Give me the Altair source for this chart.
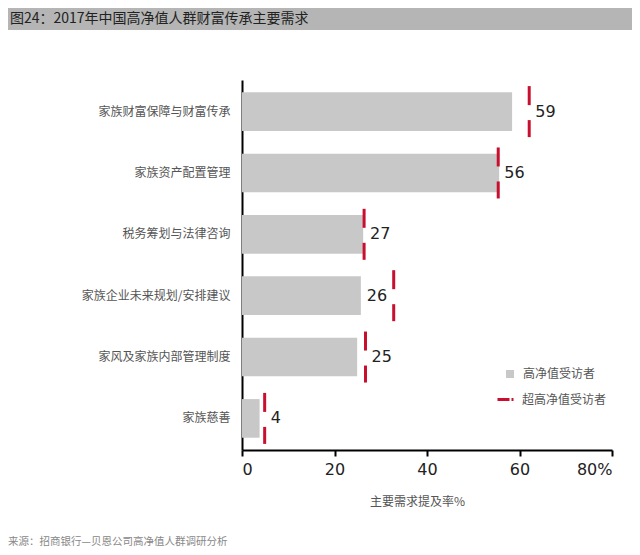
import altair as alt
import pandas as pd

# ---- data ----
categories = ['家族财富保障与财富传承', '家族资产配置管理', '税务筹划与法律咨询',
              '家族企业未来规划/安排建议', '家风及家族内部管理制度', '家族慈善']
hnw_values = [58.4, 55.6, 26.2, 25.7, 24.9, 3.8]      # 高净值受访者 (grey bars)
uhnw_values = [62.1, 55.4, 26.4, 32.8, 26.7, 4.9]     # 超高净值受访者 (red dashed ticks)
value_labels = [59, 56, 27, 26, 25, 4]
x_ticks = [0, 20, 40, 60, 80]
series_names = ['高净值受访者', '超高净值受访者']
title_text = '图24：2017年中国高净值人群财富传承主要需求'
source_text = '来源：招商银行—贝恩公司高净值人群调研分析'
x_title = '主要需求提及率%'

GREY = '#C8C8C8'
RED = '#C8102E'
CJK = 'Noto Sans CJK SC'

df = pd.DataFrame({
    'cat': categories,
    'hnw': hnw_values,
    'uhnw': uhnw_values,
    'lab': [str(v) for v in value_labels],
})
df['s1'] = series_names[0]
df['s2'] = series_names[1]
# label sits after the red tick unless the tick is far beyond the bar
df['lx'] = [u if (u - h) < 5 else h for h, u in zip(hnw_values, uhnw_values)]

x_axis = alt.Axis(values=x_ticks, grid=False,
                  labelExpr="datum.value == 80 ? '80%' : datum.label",
                  labelFont='DejaVu Sans', labelFontSize=16, labelColor='#222',
                  labelPadding=5, tickSize=6, tickWidth=2, tickColor='#000',
                  domainColor='#000', domainWidth=2,
                  title=x_title, titleFont=CJK, titleFontSize=12,
                  titleFontWeight='normal', titleColor='#555',
                  titleX=175, titleY=51, titleBaseline='middle', titleAlign='center')


def X(field):
    return alt.X(field, type='quantitative', scale=alt.Scale(domain=[0, 80]), axis=x_axis)


Y = alt.Y('cat:N', sort=categories,
          scale=alt.Scale(paddingInner=0.37, paddingOuter=0.2),
          axis=alt.Axis(title=None, ticks=False, labelFont=CJK, labelFontSize=12,
                        labelColor='#555', labelPadding=12,
                        domainColor='#000', domainWidth=2))

base = alt.Chart(df)

bars = base.mark_bar().encode(
    x=X('hnw'), y=Y,
    color=alt.Color('s1:N', scale=alt.Scale(domain=[series_names[0]], range=[GREY]),
                    legend=alt.Legend(title=None, orient='none', legendX=262, legendY=288,
                                      symbolType='square', symbolSize=64,
                                      labelFont=CJK, labelFontSize=12, labelColor='#555',
                                      labelOffset=7, padding=0)))

fill_enc = alt.Fill('s2:N', scale=alt.Scale(domain=[series_names[1]], range=[RED]),
                    legend=alt.Legend(title=None, orient='none', legendX=254, legendY=310,
                                      symbolType='stroke', symbolSize=256,
                                      symbolStrokeColor=RED, symbolStrokeWidth=3,
                                      symbolDash=[12, 2],
                                      labelFont=CJK, labelFontSize=12, labelColor='#555',
                                      labelOffset=7, padding=0))

tick_top = base.mark_tick(size=19, thickness=3, yOffset=-16, opacity=1).encode(
    x=X('uhnw'), y=Y, fill=fill_enc)
tick_bot = base.mark_tick(size=17, thickness=3, yOffset=17, opacity=1).encode(
    x=X('uhnw'), y=Y, fill=fill_enc)

texts = base.mark_text(align='left', baseline='middle', dx=6, fontSize=16,
                       font='DejaVu Sans', color='#222').encode(
    x=X('lx'), y=Y, text='lab:N')

tdf = pd.DataFrame({'t': [title_text]})
title_bar = alt.Chart(tdf).mark_rect(color='#B4B5B4').encode(
    x=alt.value(-234), x2=alt.value(390), y=alt.value(-72), y2=alt.value(-50))
title_txt = alt.Chart(tdf).mark_text(align='left', baseline='middle', fontSize=14,
                                     font=CJK, color='#222').encode(
    x=alt.value(-232), y=alt.value(-61), text='t:N')

sdf = pd.DataFrame({'s': [source_text]})
source = alt.Chart(sdf).mark_text(align='left', baseline='middle', fontSize=10.5,
                                  font=CJK, color='#888').encode(
    x=alt.value(-234), y=alt.value(462), text='s:N')

chart = alt.layer(title_bar, title_txt, bars, tick_top, tick_bot, texts, source).properties(
    width=370, height=370,
    autosize=alt.AutoSizeParams(type='none'),
    padding={'left': 234, 'top': 72, 'right': 20, 'bottom': 97},
).resolve_scale(color='independent').configure_view(stroke=None)

chart.save('out.html', embed_options={'renderer': 'svg', 'actions': False})
